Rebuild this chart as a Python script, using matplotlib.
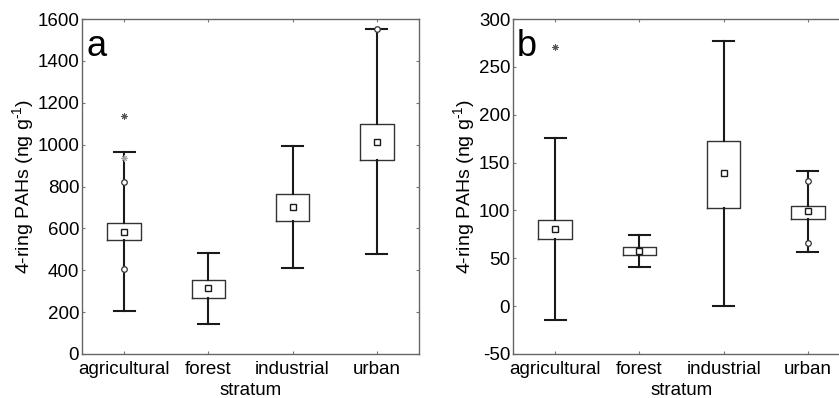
import matplotlib
matplotlib.use("Agg")
import matplotlib.pyplot as plt
import numpy as np

plt.rcParams['font.family'] = ['Liberation Sans', 'DejaVu Sans']
plt.rcParams['axes.unicode_minus'] = False
plt.rcParams['mathtext.fontset'] = 'custom'
plt.rcParams['mathtext.rm'] = 'Liberation Sans'
plt.rcParams['mathtext.default'] = 'regular'

strata = ['agricultural', 'forest', 'industrial', 'urban']

# panel a: 4-ring PAHs, ng/g
a_q1 = [543, 269, 634, 928]
a_q3 = [624, 353, 765, 1097]
a_mean = [584, 314, 700, 1012]
a_lo = [205, 145, 409, 476]
a_hi = [963, 484, 995, 1550]
a_circles = [[823, 404], [], [], [1550]]
a_stars = [[1138], [], [], []]
a_stars_grey = [[938], [], [], []]

# panel b
b_q1 = [70, 53, 103, 91]
b_q3 = [90, 62, 173, 105]
b_mean = [81, 58, 139, 99]
b_lo = [-14, 41, 0, 57]
b_hi = [176, 74, 277, 141]
b_circles = [[], [], [], [131, 66]]
b_stars = [[271], [], [], []]
b_stars_grey = [[], [], [], []]

W, H = 839, 398
fig = plt.figure(figsize=(W / 100, H / 100), dpi=100)


def panel(rect, q1, q3, mean, lo, hi, circles, stars, stars_grey, ylim, yticks, letter):
    ax = fig.add_axes(rect)
    stats = []
    for i in range(len(strata)):
        stats.append(dict(med=mean[i], q1=q1[i], q3=q3[i], whislo=lo[i], whishi=hi[i],
                          mean=mean[i], fliers=circles[i]))
    pos = np.arange(len(strata)) + 0.5
    ax.bxp(stats, positions=pos, widths=0.4, showmeans=True, showcaps=True,
           boxprops=dict(color='#333333', linewidth=1.0),
           whiskerprops=dict(color='#1a1a1a', linewidth=1.5),
           capprops=dict(color='#1a1a1a', linewidth=1.5),
           capwidths=0.25,
           medianprops=dict(linewidth=0),
           meanprops=dict(marker='s', markersize=4, markerfacecolor='white',
                          markeredgecolor='#1a1a1a', markeredgewidth=1.0),
           flierprops=dict(marker='o', markersize=4, markerfacecolor='white',
                           markeredgecolor='#333333', markeredgewidth=0.9))
    for i in range(len(strata)):
        if stars[i]:
            ax.plot([pos[i]] * len(stars[i]), stars[i], linestyle='none', marker=(8, 2, 0),
                    markersize=4.5, color='#555555', markeredgewidth=0.7)
        if stars_grey[i]:
            ax.plot([pos[i]] * len(stars_grey[i]), stars_grey[i], linestyle='none', marker=(8, 2, 0),
                    markersize=4.5, color='#a0a0a0', markeredgewidth=0.7)
    ax.set_xlim(0, len(strata))
    ax.set_ylim(*ylim)
    ax.set_yticks(yticks)
    ax.set_xticks(pos)
    ax.set_xticklabels(strata)
    ax.tick_params(direction='in', length=2, width=0.8, color='#777777',
                   labelsize=13.5, top=True, right=True)
    ax.tick_params(axis='x', pad=5)
    ax.tick_params(axis='y', pad=2)
    for s in ax.spines.values():
        s.set_color('#666666')
        s.set_linewidth(1.0)
    ax.set_xlabel('stratum', fontsize=13.5, labelpad=3)
    ax.set_ylabel('4-ring PAHs (ng g$^{\\text{-1}}$)', fontsize=14, labelpad=1)
    ax.text(0.012, 0.97, letter, transform=ax.transAxes, fontsize=26, va='top', ha='left')
    return ax


ax_h = 335 / H
ax_w = 337 / W
panel([82 / W, (H - 354) / H, ax_w, ax_h], a_q1, a_q3, a_mean, a_lo, a_hi,
      a_circles, a_stars, a_stars_grey, (0, 1600), np.arange(0, 1601, 200), 'a')
panel([513 / W, (H - 354) / H, ax_w, ax_h], b_q1, b_q3, b_mean, b_lo, b_hi,
      b_circles, b_stars, b_stars_grey, (-50, 300), np.arange(-50, 301, 50), 'b')

fig.savefig('out.png', dpi=100)
